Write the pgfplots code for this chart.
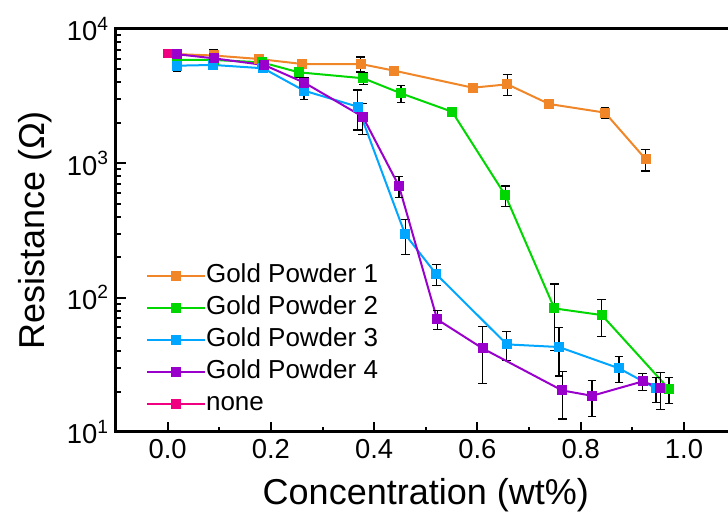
\documentclass[border=0pt]{standalone}
\usepackage{fontspec}
\setmainfont{Liberation Sans}
\usepackage{pgfplots}
\pgfplotsset{compat=1.18}
\definecolor{gpA}{RGB}{240,134,40}
\definecolor{gpB}{RGB}{0,214,0}
\definecolor{gpC}{RGB}{0,166,255}
\definecolor{gpD}{RGB}{153,0,204}
\definecolor{gpN}{RGB}{240,0,128}
\begin{document}
\begin{tikzpicture}
\begin{axis}[
    at={(0,0)}, anchor=south west,
    scale only axis,
    width=309.8pt, height=201.5pt,
    xmin=-0.1, xmax=1.1,
    ymode=log, ymin=10, ymax=10000,
    xtick={0,0.2,0.4,0.6,0.8,1.0},
    xticklabels={0.0,0.2,0.4,0.6,0.8,1.0},
    minor x tick num=1,
    ytick={10,100,1000,10000},
    yticklabels={10\textsuperscript{1},10\textsuperscript{2},10\textsuperscript{3},10\textsuperscript{4}},
    xtick pos=left, ytick pos=left,
    tick align=inside,
    major tick length=5pt, minor tick length=2.5pt,
    every tick/.style={black, line width=1pt},
    axis line style={line width=1.5pt},
    tick label style={font=\fontsize{13.7}{16}\selectfont},
    xlabel={Concentration (wt\%)},
    ylabel={Resistance (Ω)},
    label style={font=\fontsize{18}{21}\selectfont},
    xlabel style={at={(axis description cs:0.5,-0.1563)}, anchor=center},
    ylabel style={at={(axis description cs:-0.1307,0.5)}, anchor=center},
    error bars/y dir=both, error bars/y explicit,
    error bars/error bar style={black, line width=0.6pt},
    error bars/error mark options={rotate=90, black, line width=0.6pt, mark size=2.2pt},
    every axis plot/.append style={line width=1pt, mark=square*, mark size=2pt},
    legend image code/.code={\draw[mark repeat=2, mark phase=2, #1] plot coordinates {(0pt,0pt) (14.5pt,0pt) (29pt,0pt)};},
    legend cell align=left,
    legend style={draw=none, fill=none, at={(axis description cs:0.2357,0.2283)}, anchor=center,
        inner sep=0pt, row sep=4pt,
        font=\fontsize{13}{15}\selectfont,
        nodes={inner sep=0pt, text height=9.3pt, text depth=2.7pt},
        /tikz/every even column/.append style={column sep=4.5pt}},
]
\addplot[gpA, mark options={fill=gpA, draw=gpA}] coordinates {
    (0.018,6500) +- (0,300)
    (0.089,6350) +- (0,700)
    (0.176,5985) +- (0,450)
    (0.261,5486) +- (0,350)
    (0.374,5486) +- (0,700)
    (0.439,4893) +- (0,350)
    (0.591,3656) +- (0,250)
    (0.658,3874) +- (0,680)
    (0.739,2764) +- (0,150)
    (0.847,2384) +- (0,230)
    (0.926,1072) +- (0,195)
};
\addlegendentry{Gold Powder 1}
\addplot[gpB, mark options={fill=gpB, draw=gpB}] coordinates {
    (0.018,5900) +- (0,400)
    (0.089,5880) +- (0,400)
    (0.182,5650) +- (0,400)
    (0.254,4760) +- (0,400)
    (0.379,4297) +- (0,420)
    (0.452,3318) +- (0,470)
    (0.551,2421) +- (0,200)
    (0.654,578) +- (0,100)
    (0.749,83.2) +- (0,43)
    (0.841,74.2) +- (0,22.5)
    (0.971,20.9) +- (0,4.5)
};
\addlegendentry{Gold Powder 2}
\addplot[gpC, mark options={fill=gpC, draw=gpC}] coordinates {
    (0.018,5330) +- (0,500)
    (0.088,5400) +- (0,400)
    (0.185,5100) +- (0,350)
    (0.264,3477) +- (0,470)
    (0.368,2640) +- (0,870)
    (0.460,296) +- (0,86)
    (0.520,150) +- (0,27)
    (0.657,44.9) +- (0,10.8)
    (0.758,42.9) +- (0,16.8)
    (0.874,29.8) +- (0,6.6)
    (0.946,21.1) +- (0,4.5)
};
\addlegendentry{Gold Powder 3}
\addplot[gpD, mark options={fill=gpD, draw=gpD}] coordinates {
    (0.018,6490) +- (0,450)
    (0.089,6050) +- (0,300)
    (0.187,5395) +- (0,350)
    (0.265,3980) +- (0,400)
    (0.378,2222) +- (0,580)
    (0.448,678) +- (0,123)
    (0.522,68.9) +- (0,11)
    (0.610,41.9) +- (0,19)
    (0.764,20.4) +- (0,7.9)
    (0.822,18.6) +- (0,5.5)
    (0.920,23.8) +- (0,3.5)
    (0.954,21.3) +- (0,6.6)
};
\addlegendentry{Gold Powder 4}
\addplot[gpN, line width=0.6pt, mark options={fill=gpN, draw=gpN}] coordinates {
    (0.0,6590) +- (0,350)
};
\addlegendentry{none}
\end{axis}
\pgfresetboundingbox
\path (-58pt,-40.5pt) rectangle (306pt,216pt);
\end{tikzpicture}
\end{document}
